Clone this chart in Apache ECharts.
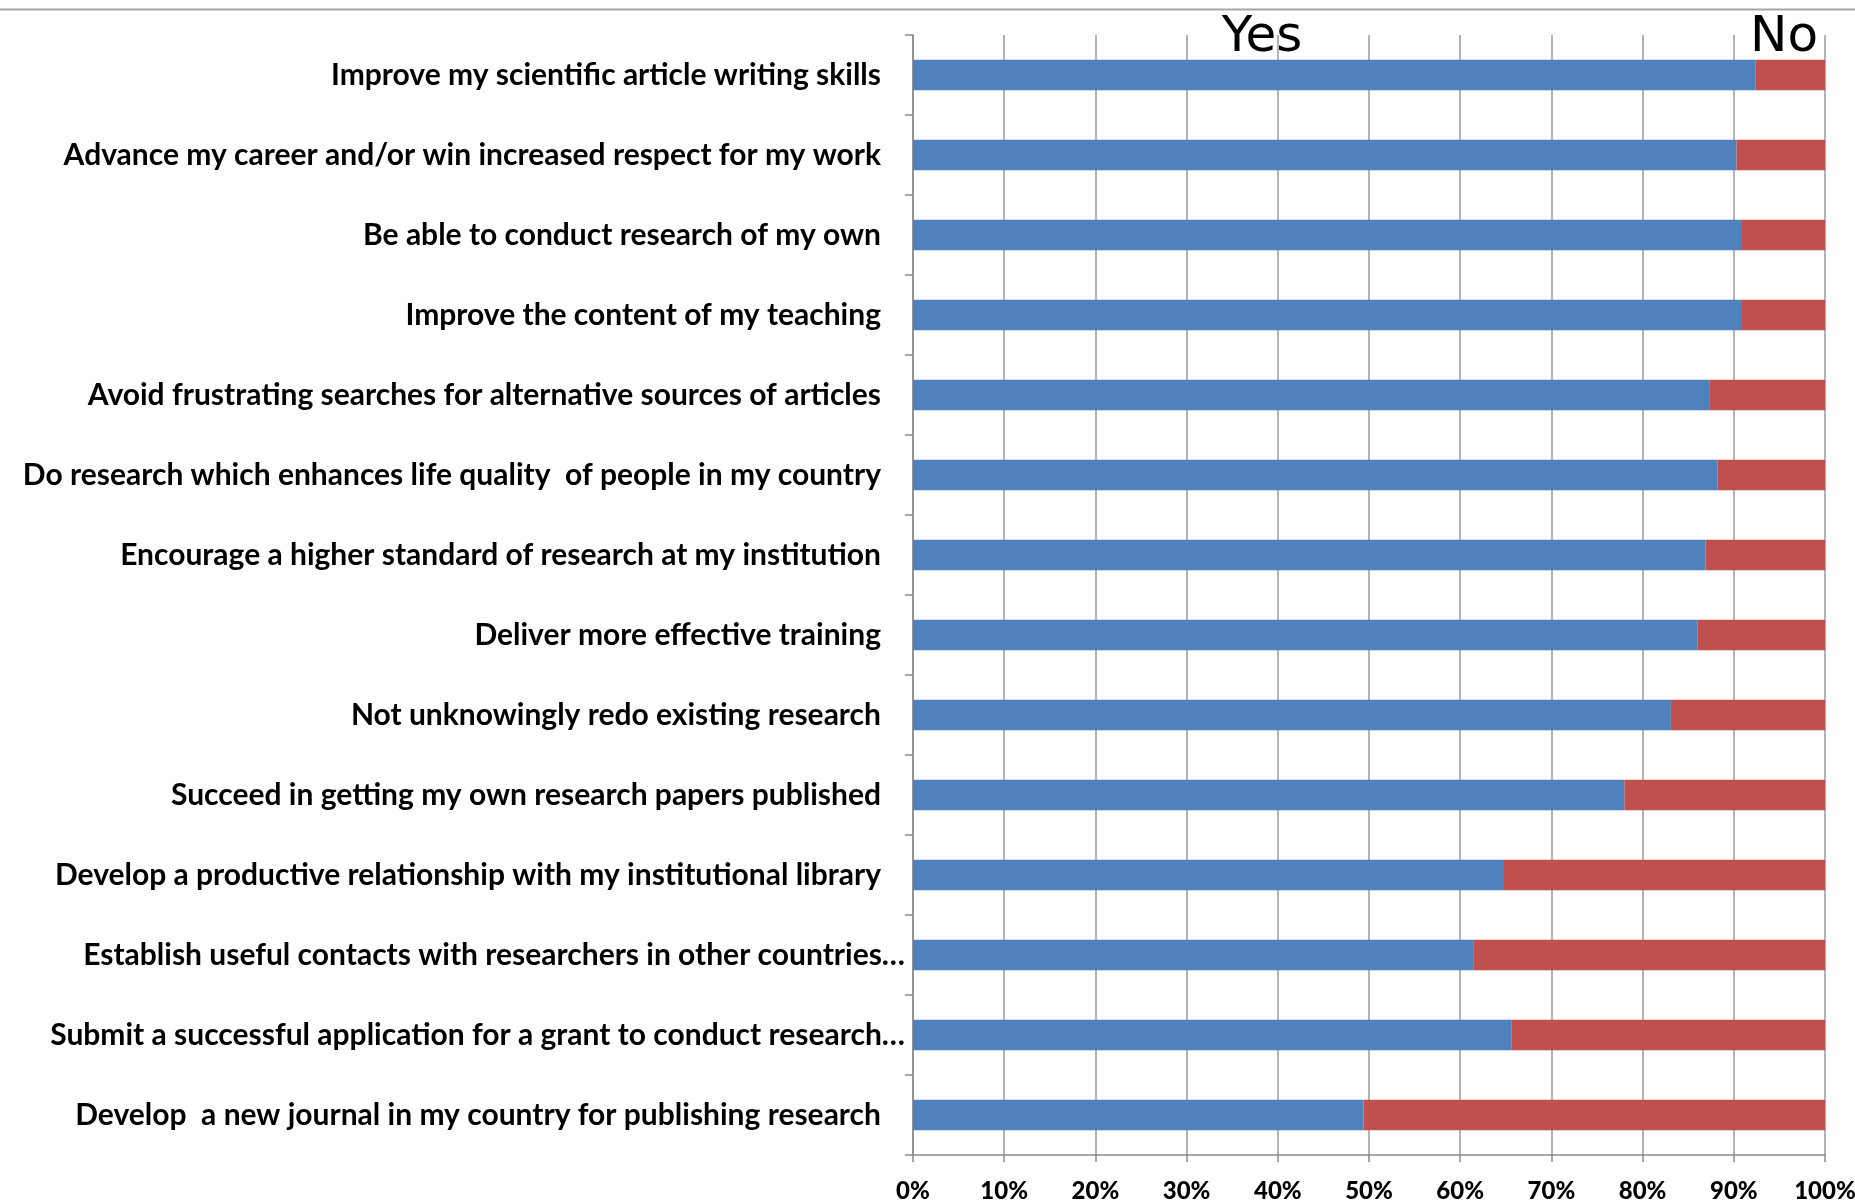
<!DOCTYPE html>
<html>
<head>
<meta charset="utf-8">
<script src="https://cdn.jsdelivr.net/npm/echarts@6/dist/echarts.min.js"></script>
<style>
html,body{margin:0;padding:0;background:#fff;}
#chart{width:1855px;height:1202px;}
</style>
</head>
<body>
<div id="chart"></div>
<script>
const categories = [
  "Improve my scientific article writing skills",
  "Advance my career and/or win increased respect for my work",
  "Be able to conduct research of my own",
  "Improve the content of my teaching",
  "Avoid frustrating searches for alternative sources of articles",
  "Do research which enhances life quality  of people in my country",
  "Encourage a higher standard of research at my institution",
  "Deliver more effective training",
  "Not unknowingly redo existing research",
  "Succeed in getting my own research papers published",
  "Develop a productive relationship with my institutional library",
  "Establish useful contacts with researchers in other countries…",
  "Submit a successful application for a grant to conduct research…",
  "Develop  a new journal in my country for publishing research"
];
const yesValues = [92.4, 90.3, 90.9, 90.9, 87.3, 88.2, 86.9, 86.0, 83.1, 78.0, 64.8, 61.5, 65.6, 49.4];
const noValues  = [7.6, 9.7, 9.1, 9.1, 12.7, 11.8, 13.1, 14.0, 16.9, 22.0, 35.2, 38.5, 34.4, 50.6];
const seriesNames = ["Yes", "No"];

const chart = echarts.init(document.getElementById('chart'), null, {renderer: 'canvas'});
const option = {
  backgroundColor: '#ffffff',
  animation: false,
  grid: {left: 913, right: 30, top: 35, bottom: 47, containLabel: false, outerBoundsMode: 'none'},
  xAxis: {
    type: 'value',
    min: 0, max: 100, interval: 10,
    axisLine: {show: true, lineStyle: {color: '#8a8a8a', width: 1.5}},
    axisTick: {show: true, length: 7, lineStyle: {color: '#8a8a8a', width: 1.5}},
    splitLine: {show: true, lineStyle: {color: '#9a9a9a', width: 1.5}},
    axisLabel: {
      formatter: '{value}%', color: '#000', fontFamily: 'Lato', fontWeight: 900,
      fontSize: 24, margin: 24
    }
  },
  yAxis: {
    type: 'category',
    data: categories,
    inverse: true,
    axisLine: {show: true, lineStyle: {color: '#8a8a8a', width: 1.5}},
    axisTick: {show: true, length: 8, lineStyle: {color: '#8a8a8a', width: 1.5}},
    splitLine: {show: false},
    axisLabel: {
      color: '#000', fontFamily: 'Lato', fontWeight: 'bold', fontSize: 30, margin: 8,
      formatter: function (v) {
        return v.endsWith('…') ? v : v + '{pad| }';
      },
      rich: {
        pad: {width: 24, fontSize: 30}
      }
    }
  },
  series: [
    {
      name: seriesNames[0], type: 'bar', stack: 'total', data: yesValues,
      barWidth: '38%', itemStyle: {color: '#4f81bd'}
    },
    {
      name: seriesNames[1], type: 'bar', stack: 'total', data: noValues,
      barWidth: '38%', itemStyle: {color: '#c0504d'}
    }
  ],
  graphic: [
    {type: 'line', shape: {x1: 0, y1: 9.5, x2: 1855, y2: 9.5}, style: {stroke: '#a6a6a6', lineWidth: 2}, silent: true},
    {type: 'text', x: 1262, y: 38, style: {text: seriesNames[0], font: '50px "DejaVu Sans"', fill: '#000', textAlign: 'center', textVerticalAlign: 'middle'}},
    {type: 'text', x: 1784, y: 38, style: {text: seriesNames[1], font: '50px "DejaVu Sans"', fill: '#000', textAlign: 'center', textVerticalAlign: 'middle'}}
  ]
};
chart.setOption(option);
</script>
</body>
</html>
